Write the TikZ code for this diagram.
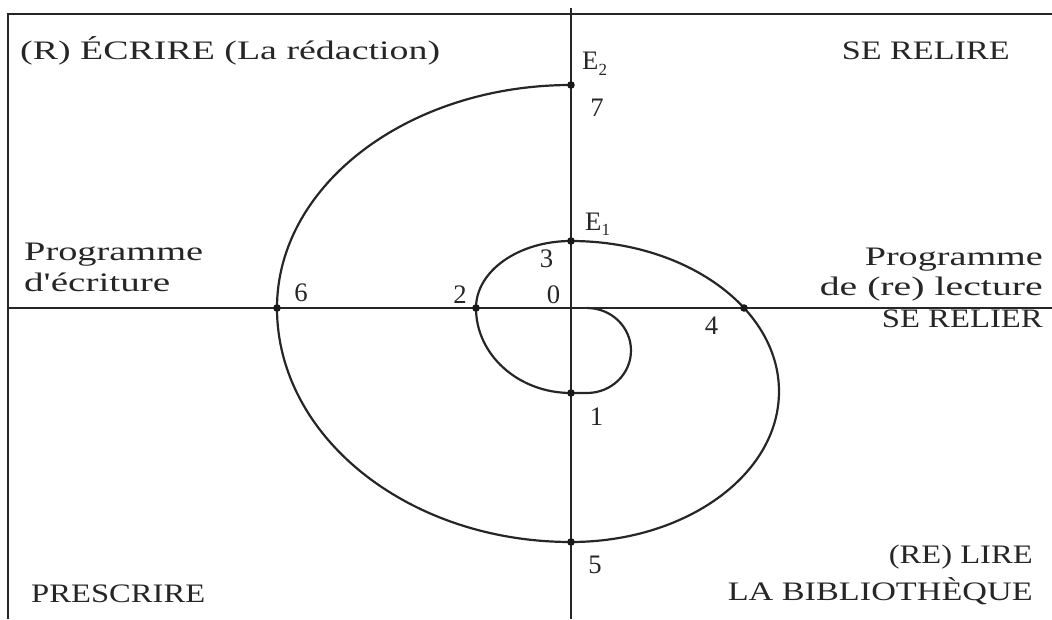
\documentclass[tikz,border=0pt]{standalone}
\usepackage{fontspec}
\setmainfont{Liberation Serif}
\newfontfamily\nolig{Liberation Serif}[Ligatures=TeXOff]
\usepackage{graphicx}
\newcommand\fw[2]{\resizebox{#1pt}{\height}{#2}}
\begin{document}
\begin{tikzpicture}[x=1pt,y=1pt,
  lbl/.style={inner sep=0pt, font=\fontsize{26.7}{30}\selectfont, text=black!85},
  frame/.style={line width=2.4pt, black!85},
  axis/.style={line width=2.1pt, black!85},
  spiral/.style={line width=2.2pt, black!85, line join=round},
  dot/.style={fill=black!90}]
\useasboundingbox (-571,-311) rectangle (481,308);
% frame
\coordinate (BL) at (-563,-311);
\coordinate (TL) at (-563,294);
\coordinate (TR) at (481,294);
\draw[frame] (BL) -- (TL) -- (TR);
% axes
\coordinate (VT) at (0,300);
\coordinate (VB) at (0,-311);
\coordinate (HL) at (-563,0);
\coordinate (HR) at (481,0);
\draw[axis] (VT) -- (VB);
\draw[axis] (HL) -- (HR);
% spiral points
\coordinate (S0) at (16,0);
\coordinate (P1) at (0,-85);
\coordinate (P2) at (-95,0);
\coordinate (P3) at (0,67);
\coordinate (P4) at (173,0);
\coordinate (P5) at (0,-234);
\coordinate (P6) at (-294,0);
\coordinate (P7) at (0,223);
\draw[spiral] (S0) arc[start angle=90, end angle=-90, x radius=44, y radius=42.5]
  -- (P1) arc[start angle=270, end angle=180, x radius=95, y radius=85]
  arc[start angle=180, end angle=90, x radius=95, y radius=67]
  arc[start angle=90, end angle=-90, x radius=208, y radius=150.5]
  arc[start angle=270, end angle=180, x radius=294, y radius=234]
  arc[start angle=180, end angle=90, x radius=294, y radius=223];
\foreach \p in {P1,P2,P3,P4,P5,P6,P7} \fill[dot] (\p) circle (3.8);
% quadrant labels
\node[lbl, anchor=base west] (ecrire) at (-551,248) {\fw{420}{(R) ÉCRIRE (La rédaction)}};
\node[lbl, anchor=base east] (relire) at (439,248) {\fw{168}{SE RELIRE}};
\node[lbl, anchor=base west] (progL) at (-547,48) {\fw{179}{Programme}};
\node[lbl, anchor=base west] (ecrit) at (-547,17) {\fw{146}{{\nolig d'écriture}}};
\node[lbl, anchor=base east] (progR) at (472,43) {\fw{178}{Programme}};
\node[lbl, anchor=base east] (lect) at (472,13) {\fw{223}{de (re) lecture}};
\node[lbl, anchor=base east] (relier) at (472,-19) {\fw{161}{SE RELIER}};
\node[lbl, anchor=base east] (lire) at (462,-255) {\fw{144}{(RE) LIRE}};
\node[lbl, anchor=base east] (biblio) at (462,-292) {\fw{305}{LA BIBLIOTHÈQUE}};
\node[lbl, anchor=base west] (prescrire) at (-540,-294) {\fw{174}{PRESCRIRE}};
% point labels
\node[lbl, anchor=base west] (E2) at (11,238) {E\raisebox{-5pt}{\fontsize{17}{20}\selectfont 2}};
\node[lbl, anchor=base west] (E1) at (14,78) {E\raisebox{-5pt}{\fontsize{17}{20}\selectfont 1}};
\node[lbl] (n7) at (26,200.5) {7};
\node[lbl] (n3) at (-24.5,49.5) {3};
\node[lbl] (n0) at (-17.5,13.5) {0};
\node[lbl] (n2) at (-111,13.5) {2};
\node[lbl] (n6) at (-270,15.5) {6};
\node[lbl] (n4) at (140.5,-17.5) {4};
\node[lbl] (n1) at (25.5,-108.5) {1};
\node[lbl] (n5) at (24,-257) {5};
\end{tikzpicture}
\end{document}
